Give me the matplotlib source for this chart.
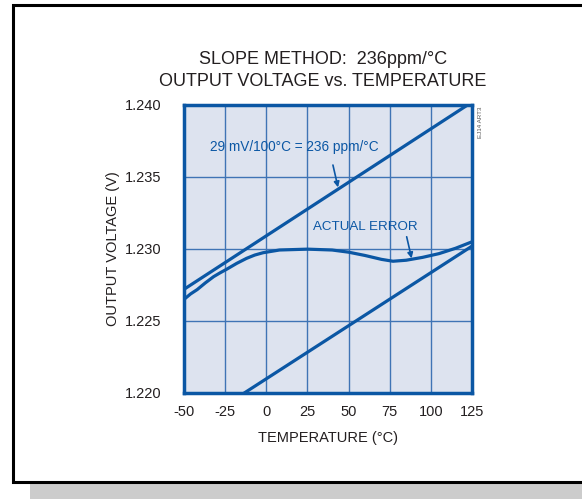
import matplotlib
matplotlib.use('Agg')
import matplotlib.pyplot as plt
from matplotlib.patches import Rectangle

plt.rcParams['font.family'] = ['Liberation Sans', 'DejaVu Sans']

# data
temp_actual = [-50, -46, -42, -37, -32, -28, -24, -18, -12, -7, -2, 8, 25, 40,
               50, 60, 70, 77, 85, 95, 105, 115, 125]
volt_actual = [1.22650, 1.22688, 1.22718, 1.22765, 1.22808, 1.22835, 1.22860,
               1.22900, 1.22935, 1.22958, 1.22974, 1.22993, 1.22999, 1.22993,
               1.22978, 1.22955, 1.22928, 1.22915, 1.22922, 1.22942, 1.22968,
               1.23005, 1.23050]
temp_slope = [-50, 125]
volt_slope_hi = [1.2272, 1.2402]
volt_slope_lo = [1.2173, 1.2302]

x_ticks = [-50, -25, 0, 25, 50, 75, 100, 125]
y_ticks = [1.220, 1.225, 1.230, 1.235, 1.240]

BLUE = '#0b57a4'
GRID = '#3f74b5'
BG = '#dde3ef'
TXT = '#231f20'

W, H = 582, 499
fig = plt.figure(figsize=(W / 100, H / 100), dpi=100)

# shadow and frame (behind the axes)
fig.patches.append(Rectangle((30 / W, 0), 1, 1 - 22 / H, transform=fig.transFigure,
                             facecolor='#cccccc', edgecolor='none', zorder=-3))
fig.patches.append(Rectangle((13 / W, 1 - 482 / H), 1, (482 - 5) / H, transform=fig.transFigure,
                             facecolor='white', edgecolor='black', lw=2.2, zorder=-2))

ax = fig.add_axes([184 / W, 1 - 393 / H, (472 - 184) / W, (393 - 105) / H])
ax.set_facecolor(BG)

ax.plot(temp_slope, volt_slope_hi, color=BLUE, lw=2.3)
ax.plot(temp_slope, volt_slope_lo, color=BLUE, lw=2.3)
ax.plot(temp_actual, volt_actual, color=BLUE, lw=2.3)

ax.set_xlim(-50, 125)
ax.set_ylim(1.220, 1.240)
ax.set_xticks(x_ticks)
ax.set_yticks(y_ticks)
ax.set_xticklabels([str(t) for t in x_ticks])
ax.set_yticklabels([f"{v:.3f}" for v in y_ticks])
ax.tick_params(length=0, labelsize=10.5, colors=TXT)
ax.tick_params(axis='y', pad=16.5)
ax.tick_params(axis='x', pad=9)
ax.grid(True, color=GRID, lw=1.0)
ax.set_axisbelow(True)
for s in ax.spines.values():
    s.set_color(BLUE)
    s.set_linewidth(2.5)

ax.set_xlabel("TEMPERATURE (°C)", fontsize=10.5, color=TXT, labelpad=8)
ax.set_ylabel("OUTPUT VOLTAGE (V)", fontsize=10.5, color=TXT, labelpad=3)

fig.text(323 / W, 1 - 60 / H, "SLOPE METHOD:  236ppm/°C", ha='center', va='center',
         fontsize=13, color=TXT)
fig.text(323 / W, 1 - 82 / H, "OUTPUT VOLTAGE vs. TEMPERATURE", ha='center', va='center',
         fontsize=13, color=TXT)
fig.text(481 / W, 1 - 122 / H, "EJ14 ART3", ha='center', va='center', rotation=90,
         fontsize=4.5, color='#555555')

arrow = dict(arrowstyle='-|>', color=BLUE, lw=1.2, mutation_scale=8, shrinkA=0, shrinkB=0)
ax.text(17, 1.23705, "29 mV/100°C = 236 ppm/°C", ha='center', va='center',
        fontsize=9.8, color=BLUE)
ax.annotate("", xy=(43.6, 1.23428), xytext=(40.5, 1.23583), arrowprops=arrow)
ax.text(60, 1.23155, "ACTUAL ERROR", ha='center', va='center', fontsize=9.6, color=BLUE)
ax.annotate("", xy=(88.3, 1.22935), xytext=(85.3, 1.23085), arrowprops=arrow)

fig.savefig("out.png", dpi=100)
